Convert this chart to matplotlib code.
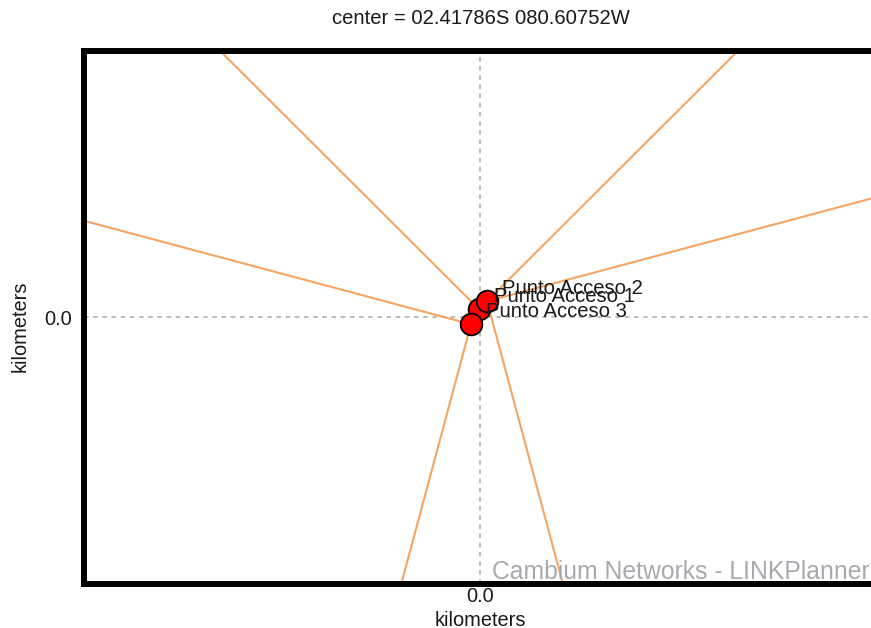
import numpy as np
import matplotlib
matplotlib.use("Agg")
import matplotlib.pyplot as plt

plt.rcParams['font.family'] = ['Liberation Sans', 'DejaVu Sans']

# ---- data (km relative to map center) ----
ap_names = ["Punto Acceso 1", "Punto Acceso 2", "Punto Acceso 3"]
ap_x = [-0.01, 0.071, -0.091]
ap_y = [0.081, 0.162, -0.071]
# sector edge bearings (degrees clockwise from north) per access point
edge_a = [315.0, 75.0, 195.0]
edge_b = [45.0, 165.0, 285.0]
x_ticks = [0.0]
y_ticks = [0.0]
title = "center = 02.41786S 080.60752W"
xlim = (-4.0, 4.0)
ylim = (-2.7, 2.7)

W, H = 871, 628
fig = plt.figure(figsize=(W / 100, H / 100), dpi=100)
ax = fig.add_axes([84 / W, (H - 584) / H, 792 / W, 533.5 / H])
ax.set_xlim(*xlim)
ax.set_ylim(*ylim)

line_color = "#F5A561"
L = 20.0
for x0, y0, a, b in zip(ap_x, ap_y, edge_a, edge_b):
    for brg in (a, b):
        r = np.deg2rad(brg)
        ax.plot([x0, x0 + L * np.sin(r)], [y0, y0 + L * np.cos(r)],
                color=line_color, lw=1.5, solid_capstyle='butt', zorder=2)

for x0, y0, name in zip(ap_x, ap_y, ap_names):
    ax.plot([x0], [y0], 'o', ms=15.6, mfc='#FF0000', mec='black', mew=1.3, zorder=3)
for x0, y0, name in zip(ap_x, ap_y, ap_names):
    ax.annotate(name, (x0, y0), xytext=(11, 9), textcoords='offset points',
                ha='left', va='center', fontsize=14.6, color='#1a1a1a', zorder=4)

ax.set_xticks(x_ticks)
ax.set_yticks(y_ticks)
ax.set_xticklabels([f"{v:.1f}" for v in x_ticks])
ax.set_yticklabels([f"{v:.1f}" for v in y_ticks])
ax.tick_params(length=0, labelsize=14.4, labelcolor='#1a1a1a')
ax.tick_params(axis='x', pad=2)
ax.tick_params(axis='y', pad=9)
ax.grid(True, color='#a8a8a8', ls=(0, (3, 3)), lw=1.1, zorder=1)
ax.set_axisbelow(True)

for s in ax.spines.values():
    s.set_linewidth(4.3)
    s.set_color('black')

ax.set_xlabel("kilometers", fontsize=14.4, color='#1a1a1a', va='center')
ax.xaxis.set_label_coords(0.5, (584 - 620) / 533.5)
ax.set_ylabel("kilometers", fontsize=14.4, color='#1a1a1a', va='center')
ax.yaxis.set_label_coords((20 - 84) / 792, (584 - 326) / 533.5)

fig.text(481 / W, 1 - 19 / H, title, ha='center', va='center', fontsize=14.6, color='#1a1a1a')

ax.text((870 - 84) / 792, (584 - 579) / 533.5, "Cambium Networks - LINKPlanner",
        transform=ax.transAxes, ha='right', va='baseline', fontsize=17.8,
        color='#A6AAAE', zorder=5)

fig.savefig("out.png", dpi=100)
